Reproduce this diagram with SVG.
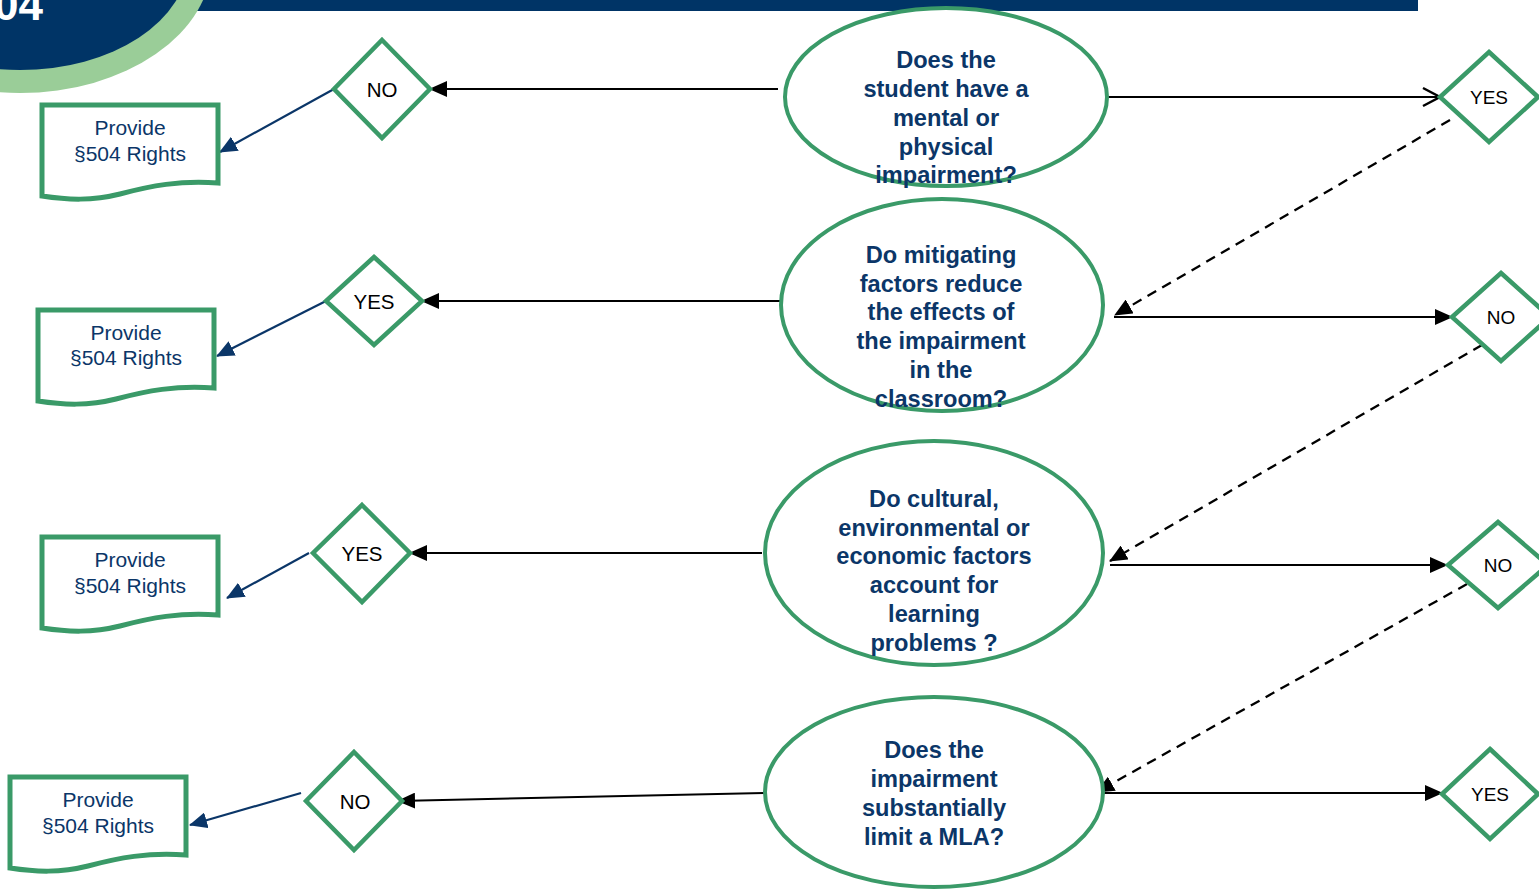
<svg xmlns="http://www.w3.org/2000/svg" width="1539" height="889" viewBox="0 0 1539 889">
<style>
.q{fill:#fff;stroke:#3A9A68;stroke-width:4}
.d{fill:#fff;stroke:#3A9A68;stroke-width:4.5}
.doc{fill:#fff;stroke:#3A9A68;stroke-width:5}
.qt{font-family:"Liberation Sans",Arial,sans-serif;font-weight:bold;font-size:23.6px;fill:#0B3668;text-anchor:middle}
.dt{font-family:"Liberation Sans",Arial,sans-serif;font-size:20.5px;fill:#000;text-anchor:middle}
.rt{font-family:"Liberation Sans",Arial,sans-serif;font-size:19px;fill:#000;text-anchor:middle}
.pt{font-family:"Liberation Sans",Arial,sans-serif;font-size:21px;fill:#0B3668;text-anchor:middle}
.k{stroke:#000;stroke-width:2;fill:none}
.kd{stroke:#000;stroke-width:2.3;fill:none;stroke-dasharray:10 7}
.n{stroke:#0B3668;stroke-width:2.2;fill:none}
</style>
<defs>
<marker id="ab" markerUnits="userSpaceOnUse" markerWidth="18" markerHeight="16" refX="17" refY="8" orient="auto"><path d="M0,0 L18,8 L0,16 Z" fill="#000"/></marker>
<marker id="an" markerUnits="userSpaceOnUse" markerWidth="18" markerHeight="16" refX="17" refY="8" orient="auto"><path d="M0,0 L18,8 L0,16 Z" fill="#0B3668"/></marker>
<marker id="ao" markerUnits="userSpaceOnUse" markerWidth="22" markerHeight="22" refX="19" refY="11" orient="auto"><path d="M2,2 L19,11 L2,20" fill="none" stroke="#000" stroke-width="2.5"/></marker>
</defs>

<g id="header">
<rect x="150" y="0" width="1268" height="11" fill="#003466"/>
<ellipse cx="20" cy="-40" rx="192" ry="133" fill="#9ACD98"/>
<ellipse cx="20" cy="-40" rx="168" ry="110" fill="#003466"/>
<text x="-6" y="20" font-family="Liberation Sans,Arial,sans-serif" font-weight="bold" font-size="44" fill="#fff">04</text>
</g>

<g id="connectors">
<line class="k" x1="778" y1="89" x2="430" y2="89" marker-end="url(#ab)"/>
<line class="k" x1="782" y1="301" x2="422" y2="301" marker-end="url(#ab)"/>
<line class="k" x1="762" y1="553" x2="410" y2="553" marker-end="url(#ab)"/>
<line class="k" x1="766" y1="793" x2="398" y2="801" marker-end="url(#ab)"/>
<line class="k" x1="1108" y1="97" x2="1440" y2="97" marker-end="url(#ao)"/>
<line class="k" x1="1114" y1="317" x2="1452" y2="317" marker-end="url(#ab)"/>
<line class="k" x1="1110" y1="565" x2="1447" y2="565" marker-end="url(#ab)"/>
<line class="k" x1="1097" y1="793" x2="1442" y2="793" marker-end="url(#ab)"/>
<line class="kd" x1="1450" y1="120" x2="1115" y2="315" marker-end="url(#ab)"/>
<line class="kd" x1="1482" y1="345" x2="1110" y2="561" marker-end="url(#ab)"/>
<line class="kd" x1="1467" y1="584" x2="1097" y2="792" marker-end="url(#ab)"/>
<line class="n" x1="334" y1="89" x2="220" y2="152" marker-end="url(#an)"/>
<line class="n" x1="326" y1="301" x2="217" y2="356" marker-end="url(#an)"/>
<line class="n" x1="309" y1="553" x2="227" y2="598" marker-end="url(#an)"/>
<line class="n" x1="301" y1="793" x2="190" y2="825" marker-end="url(#an)"/>
</g>

<g id="q1">
<ellipse class="q" cx="946" cy="97" rx="161" ry="89"/>
<text class="qt"><tspan x="946" y="68">Does the</tspan><tspan x="946" y="97">student have a</tspan><tspan x="946" y="126">mental or</tspan><tspan x="946" y="155">physical</tspan><tspan x="946" y="183">impairment?</tspan></text>
</g>
<g id="q2">
<ellipse class="q" cx="942" cy="305" rx="161" ry="106"/>
<text class="qt"><tspan x="941" y="263">Do mitigating</tspan><tspan x="941" y="292">factors reduce</tspan><tspan x="941" y="320">the effects of</tspan><tspan x="941" y="349">the impairment</tspan><tspan x="941" y="378">in the</tspan><tspan x="941" y="407">classroom?</tspan></text>
</g>
<g id="q3">
<ellipse class="q" cx="934" cy="553" rx="169" ry="112"/>
<text class="qt"><tspan x="934" y="507">Do cultural,</tspan><tspan x="934" y="536">environmental or</tspan><tspan x="934" y="564">economic factors</tspan><tspan x="934" y="593">account for</tspan><tspan x="934" y="622">learning</tspan><tspan x="934" y="651">problems ?</tspan></text>
</g>
<g id="q4">
<ellipse class="q" cx="934" cy="792" rx="169" ry="95"/>
<text class="qt"><tspan x="934" y="758">Does the</tspan><tspan x="934" y="787">impairment</tspan><tspan x="934" y="816">substantially</tspan><tspan x="934" y="845">limit a MLA?</tspan></text>
</g>

<g id="dl1"><path class="d" d="M382,40 L430,89 L382,138 L334,89 Z"/><text class="dt" x="382" y="97">NO</text></g>
<g id="dl2"><path class="d" d="M374,257 L422,301 L374,345 L326,301 Z"/><text class="dt" x="374" y="309">YES</text></g>
<g id="dl3"><path class="d" d="M362,505 L410,553 L362,602 L313,553 Z"/><text class="dt" x="362" y="561">YES</text></g>
<g id="dl4"><path class="d" d="M354,752 L402,801 L354,850 L306,801 Z"/><text class="dt" x="355" y="809">NO</text></g>

<g id="dr1"><path class="d" d="M1489,52 L1538,97 L1489,142 L1440,97 Z"/><text class="rt" x="1489" y="104">YES</text></g>
<g id="dr2"><path class="d" d="M1501,273 L1550,317 L1501,361 L1452,317 Z"/><text class="rt" x="1501" y="324">NO</text></g>
<g id="dr3"><path class="d" d="M1498,522 L1548,565 L1498,608 L1448,565 Z"/><text class="rt" x="1498" y="572">NO</text></g>
<g id="dr4"><path class="d" d="M1490,749 L1538,794 L1490,839 L1442,794 Z"/><text class="rt" x="1490" y="801">YES</text></g>

<g id="p1"><path class="doc" d="M42,105 L218,105 L218,183 C180,180 150,186 120,194 C92,201 68,200 42,196 Z"/><text class="pt"><tspan x="130" y="135">Provide</tspan><tspan x="130" y="161">§504 Rights</tspan></text></g>
<g id="p2"><path class="doc" d="M38,310 L214,310 L214,388 C176,385 146,391 116,399 C88,406 64,405 38,401 Z"/><text class="pt"><tspan x="126" y="340">Provide</tspan><tspan x="126" y="365">§504 Rights</tspan></text></g>
<g id="p3"><path class="doc" d="M42,537 L218,537 L218,615 C180,612 150,618 120,626 C92,633 68,632 42,628 Z"/><text class="pt"><tspan x="130" y="567">Provide</tspan><tspan x="130" y="593">§504 Rights</tspan></text></g>
<g id="p4"><path class="doc" d="M10,777 L186,777 L186,855 C148,852 118,858 88,866 C60,873 36,872 10,868 Z"/><text class="pt"><tspan x="98" y="807">Provide</tspan><tspan x="98" y="833">§504 Rights</tspan></text></g>
</svg>
